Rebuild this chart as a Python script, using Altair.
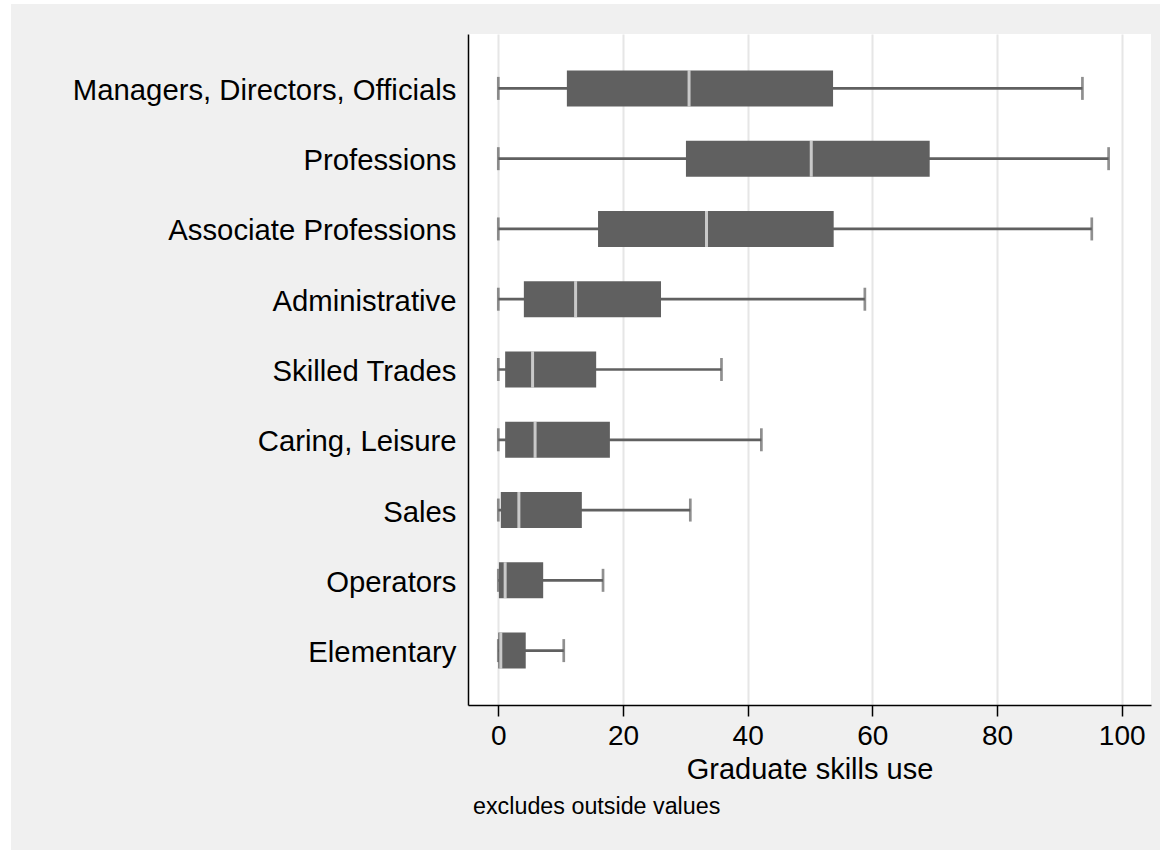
import altair as alt
import pandas as pd

# Occupation groups, top to bottom
occupations = [
    "Managers, Directors, Officials",
    "Professions",
    "Associate Professions",
    "Administrative",
    "Skilled Trades",
    "Caring, Leisure",
    "Sales",
    "Operators",
    "Elementary",
]

# Box-plot summary of graduate skills use (outside values excluded)
lower_adjacent = [0.0, 0.0, 0.0, 0.0, 0.0, 0.0, 0.0, 0.0, 0.0]
quartile_1 = [11.0, 30.1, 16.0, 4.1, 1.1, 1.1, 0.4, 0.1, 0.0]
medians = [30.6, 50.2, 33.4, 12.4, 5.5, 5.9, 3.3, 1.1, 0.4]
quartile_3 = [53.7, 69.2, 53.8, 26.1, 15.7, 17.9, 13.4, 7.2, 4.4]
upper_adjacent = [93.7, 97.9, 95.2, 58.8, 35.8, 42.2, 30.8, 16.8, 10.5]

x_ticks = [0, 20, 40, 60, 80, 100]
note_text = "excludes outside values"

df = pd.DataFrame({
    "occupation": occupations,
    "lo": lower_adjacent,
    "q1": quartile_1,
    "med": medians,
    "q3": quartile_3,
    "hi": upper_adjacent,
})

PLOT_W, PLOT_H = 683, 671
PAD_L, PAD_T = 468, 34
BOX = "#606060"
FONT = "Liberation Sans"

x_scale = alt.Scale(domain=[-4.86, 104.7], nice=False, zero=False)
y_scale = alt.Scale(paddingInner=0, paddingOuter=0.274)

x_axis = alt.Axis(
    values=x_ticks,
    title="Graduate skills use",
    titleFontSize=29,
    titleFontWeight="normal",
    titleColor="black",
    titleFont=FONT,
    titleBaseline="alphabetic",
    titleY=73,
    labelFontSize=28,
    labelFont=FONT,
    labelColor="black",
    labelPadding=6,
    tickSize=11,
    tickWidth=1.5,
    tickColor="black",
    domainColor="black",
    domainWidth=1.5,
    grid=True,
    gridColor="#e6e6e6",
    gridWidth=2,
)

y_axis = alt.Axis(
    title=None,
    ticks=False,
    grid=False,
    labelFontSize=29.3,
    labelFont=FONT,
    labelColor="black",
    labelPadding=12,
    labelOffset=2.5,
    labelLimit=0,
    domainColor="black",
    domainWidth=1.5,
)

base = alt.Chart(df).encode(
    y=alt.Y("occupation:N", sort=occupations, scale=y_scale, axis=y_axis)
)

whisker = base.mark_rule(color=BOX, strokeWidth=2.7).encode(
    x=alt.X("lo:Q", scale=x_scale, axis=x_axis),
    x2="hi:Q",
)

cap_lo = base.mark_tick(color=BOX, size=23, thickness=2.7).encode(x="lo:Q")
cap_hi = base.mark_tick(color=BOX, size=23, thickness=2.7).encode(x="hi:Q")

box = base.mark_bar(color=BOX, size=36).encode(x="q1:Q", x2="q3:Q")

median = base.mark_tick(color="#f6f6f6", size=36, thickness=3).encode(x="med:Q")

# thin white strips framing the grey graph region
frame = alt.Chart(alt.Data(values=[{"k": 0}])).mark_rect(color="white").encode(
    x=alt.value(-PAD_L), x2=alt.value(-PAD_L + 11),
    y=alt.value(-PAD_T), y2=alt.value(850 - PAD_T),
)
frame_top = alt.Chart(alt.Data(values=[{"k": 0}])).mark_rect(color="white").encode(
    x=alt.value(-PAD_L), x2=alt.value(1160 - PAD_L),
    y=alt.value(-PAD_T), y2=alt.value(-PAD_T + 4),
)

note = alt.Chart(alt.Data(values=[{"t": note_text}])).mark_text(
    align="left", baseline="alphabetic", fontSize=23.3, font=FONT, color="black"
).encode(
    x=alt.value(5), y=alt.value(814 - PAD_T), text="t:N"
)

chart = alt.layer(
    frame, frame_top, whisker, cap_lo, cap_hi, box, median, note
).properties(
    width=PLOT_W,
    height=PLOT_H,
    padding={"left": PAD_L, "top": PAD_T, "right": 1160 - PAD_L - PLOT_W,
             "bottom": 850 - PAD_T - PLOT_H},
    autosize=alt.AutoSizeParams(type="none"),
    background="#f0f0f0",
).configure_view(
    fill="white", stroke=None
)

chart.save("out.html", embed_options={"renderer": "svg", "actions": False})
